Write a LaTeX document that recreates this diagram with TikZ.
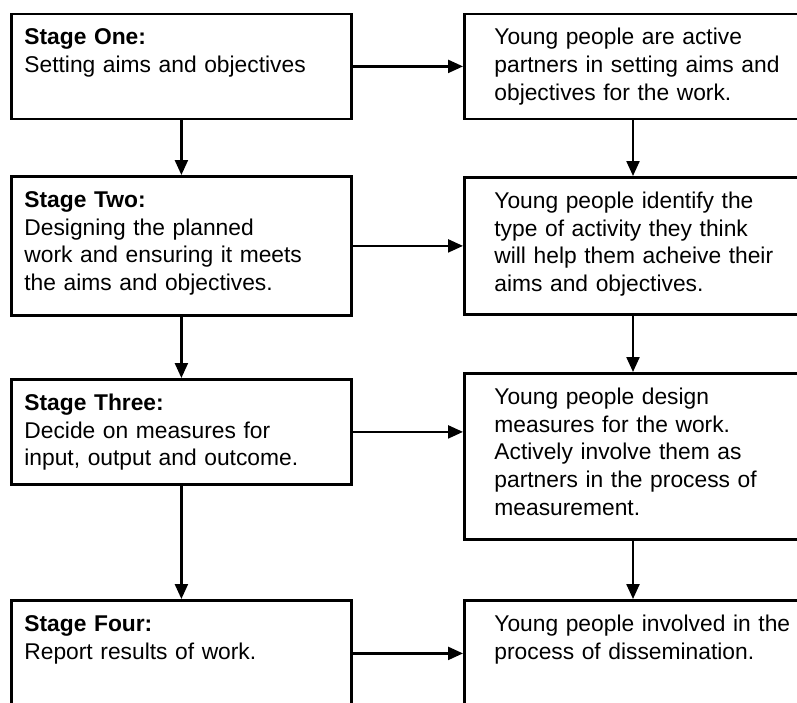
\documentclass[tikz,border=0pt]{standalone}
\usepackage{fontspec}
\setmainfont{Liberation Sans}
\usetikzlibrary{arrows.meta}

\begin{document}
\begin{tikzpicture}[x=1pt,y=-1pt,->,>={Triangle[length=15pt,width=13pt]},line width=2.3pt,
                    stage/.style={draw,line width=2.8pt,anchor=north west,align=left,
                                  inner ysep=0pt,text height=31pt,
                                  font=\fontsize{22.8}{27.7}\selectfont},
                    left box/.style={stage,inner xsep=13pt,text width=314pt},
                    right box/.style={stage,inner xsep=30pt,text width=300pt}
                   ]
  \fill[white,-] (0,0) rectangle (797,702);
  \useasboundingbox (0,0) rectangle (797,702);

  % stages, left column
  \node[left box,text depth=74pt]  (one)   at (10,12.5) {\textbf{Stage One:}\\ Setting aims and objectives};
  \node[left box,text depth=108pt] (two)   at (10,175)  {\textbf{Stage Two:}\\ Designing the planned\\ work and ensuring it meets\\ the aims and objectives.};
  \node[left box,text depth=74pt]  (three) at (10,378)  {\textbf{Stage Three:}\\ Decide on measures for\\ input, output and outcome.};
  \node[left box,text depth=75pt]  (four)  at (10,599)  {\textbf{Stage Four:}\\ Report results of work.};

  % what young people do at each stage, right column
  \node[right box,text depth=74pt]  (yone)   at (463,12.5) {Young people are active\\ partners in setting aims and\\ objectives for the work.};
  \node[right box,text depth=106pt] (ytwo)   at (463,176)  {Young people identify the\\ type of activity they think\\ will help them acheive their\\ aims and objectives.};
  \node[right box,text depth=135pt] (ythree) at (463,372)  {Young people design\\ measures for the work.\\ Actively involve them as\\ partners in the process of\\ measurement.};
  \node[right box,text depth=100pt] (yfour)  at (463,599)  {Young people involved in the\\ process of dissemination.};

  \path%
    (one)   edge (two)
    (two)   edge (three)
    (three) edge (four)
    (one.east)   edge (one.east -| yone.west)
    (two.east)   edge (two.east -| ytwo.west)
    (three.east) edge (three.east -| ythree.west)
    (four.east)  edge (four.east -| yfour.west)
    ([xshift=170pt]yone.south west)   edge ([xshift=170pt]ytwo.north west)
    ([xshift=170pt]ytwo.south west)   edge ([xshift=170pt]ythree.north west)
    ([xshift=170pt]ythree.south west) edge ([xshift=170pt]yfour.north west);
\end{tikzpicture}
\end{document}
